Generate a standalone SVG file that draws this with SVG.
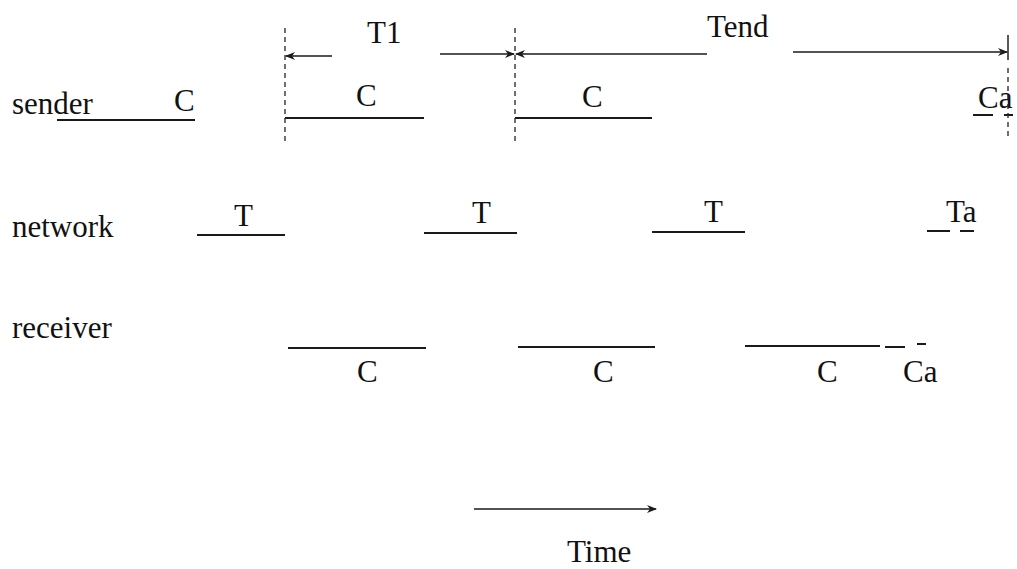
<svg xmlns="http://www.w3.org/2000/svg" width="1017" height="569" viewBox="0 0 1017 569">
<style>
text{font-family:"Liberation Serif","Times New Roman",serif;font-size:31px;fill:#111}
.ln{stroke:#1a1a1a;stroke-width:2;fill:none}
.dv{stroke:#222;stroke-width:1.3;stroke-dasharray:5 4;fill:none}
.ar{stroke:#1a1a1a;stroke-width:1.7;fill:none;marker-end:url(#ah)}
</style>
<defs>
<marker id="ah" viewBox="0 0 10 10" refX="9" refY="5" markerWidth="10" markerHeight="10" markerUnits="userSpaceOnUse" orient="auto">
<path d="M0,1 L10,5 L0,9 L3,5 Z" fill="#1a1a1a"/>
</marker>
</defs>
<rect width="1017" height="569" fill="#fff"/>
<g id="labels">
<text x="12" y="114">sender</text>
<text x="12" y="237">network</text>
<text x="12" y="338">receiver</text>
</g>
<g id="sender">
<line class="ln" x1="57" y1="120" x2="195" y2="120"/>
<text x="174" y="111">C</text>
<line class="ln" x1="285" y1="118" x2="424" y2="118"/>
<text x="356" y="106">C</text>
<line class="ln" x1="515" y1="118" x2="652" y2="118"/>
<text x="582" y="107">C</text>
<line class="ln" x1="973" y1="115" x2="993" y2="115"/>
<line class="ln" x1="1004" y1="115" x2="1013" y2="115"/>
<text x="978" y="108">Ca</text>
</g>
<g id="network">
<line class="ln" x1="197" y1="235" x2="285" y2="235"/>
<text x="234" y="226">T</text>
<line class="ln" x1="424" y1="233" x2="517" y2="233"/>
<text x="472" y="223">T</text>
<line class="ln" x1="652" y1="232" x2="745" y2="232"/>
<text x="704" y="222">T</text>
<line class="ln" x1="927" y1="231" x2="950" y2="231"/>
<line class="ln" x1="960" y1="231" x2="974" y2="231"/>
<text x="946" y="222">Ta</text>
</g>
<g id="receiver">
<line class="ln" x1="288" y1="348" x2="426" y2="348"/>
<text x="357" y="382">C</text>
<line class="ln" x1="518" y1="347" x2="655" y2="347"/>
<text x="593" y="382">C</text>
<line class="ln" x1="745" y1="346" x2="880" y2="346"/>
<line class="ln" x1="885" y1="347" x2="905" y2="347"/>
<line class="ln" x1="917" y1="344" x2="926" y2="344"/>
<text x="817" y="382">C</text>
<text x="903" y="382">Ca</text>
</g>
<g id="timing">
<line class="dv" x1="285" y1="28" x2="285" y2="143"/>
<line class="dv" x1="515" y1="28" x2="515" y2="141"/>
<line stroke="#222" stroke-width="1.5" x1="1008" y1="35" x2="1008" y2="60"/>
<line class="dv" x1="1008" y1="68" x2="1008" y2="136"/>
<text x="367" y="43">T1</text>
<text x="707" y="37">Tend</text>
</g>
<g id="connectors">
<line class="ar" x1="332" y1="56" x2="286" y2="56"/>
<line class="ar" x1="440" y1="54" x2="514" y2="54"/>
<line class="ar" x1="707" y1="54" x2="516" y2="54"/>
<line class="ar" x1="793" y1="52" x2="1007" y2="52"/>
<line class="ar" x1="474" y1="509" x2="656" y2="509"/>
</g>
<g id="time">
<text x="567" y="562">Time</text>
</g>
</svg>
